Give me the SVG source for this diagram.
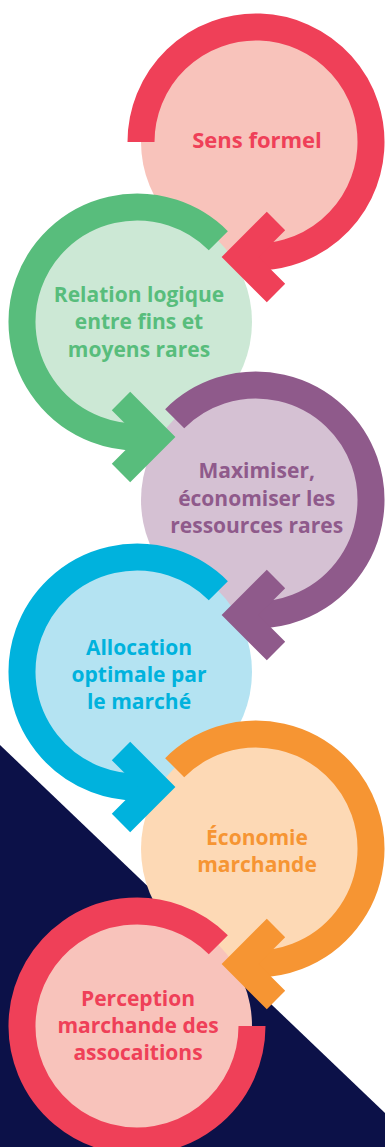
<svg xmlns="http://www.w3.org/2000/svg" width="385" height="1147" viewBox="0 0 385 1147">
<style>
.lbl{font-family:"Open Sans","Liberation Sans",sans-serif;font-weight:700;font-size:21px;text-anchor:middle}
.ring{fill:none;stroke-width:27;stroke-linecap:butt}
.chev{fill:none;stroke-width:26;stroke-linecap:butt;stroke-linejoin:miter;stroke-miterlimit:4}
.red{stroke:#ef4058}.green{stroke:#58bd7c}.purple{stroke:#8f5a8b}.blue{stroke:#00b2dd}.orange{stroke:#f69533}
</style>
<rect width="385" height="1147" fill="#ffffff"/>
<polygon points="0,745 385,1113 385,1147 0,1147" fill="#0c1148"/>
<g id="node-sens-formel">
<circle cx="256" cy="142" r="115" fill="#f8c3bb"/>
<text class="lbl" x="257" y="148" fill="#ef4058" style="font-size:22px">Sens formel</text>
</g>
<g id="node-relation-logique">
<circle cx="137" cy="322" r="115" fill="#cce8d5"/>
<text class="lbl" fill="#58bd7c"><tspan x="139" y="301.7">Relation logique</tspan><tspan x="139" y="329.3">entre fins et</tspan><tspan x="139" y="356.7">moyens rares</tspan></text>
</g>
<g id="node-maximiser">
<circle cx="256" cy="500" r="115" fill="#d5c1d3"/>
<text class="lbl" fill="#8f5a8b"><tspan x="256.7" y="478.3">Maximiser,</tspan><tspan x="256.7" y="505.7">économiser les</tspan><tspan x="256.7" y="532.7">ressources rares</tspan></text>
</g>
<g id="node-allocation">
<circle cx="137" cy="672" r="115" fill="#b4e3f2"/>
<text class="lbl" fill="#00b2dd"><tspan x="139" y="655">Allocation</tspan><tspan x="139" y="682">optimale par</tspan><tspan x="139" y="709">le marché</tspan></text>
</g>
<g id="node-economie-marchande">
<circle cx="256" cy="849" r="115" fill="#fdd9b5"/>
<text class="lbl" fill="#f69533"><tspan x="257" y="845">Économie</tspan><tspan x="257" y="872">marchande</tspan></text>
</g>
<g id="node-perception">
<circle cx="137" cy="1026" r="115" fill="#f8c3bb"/>
<text class="lbl" fill="#ef4058"><tspan x="138" y="1006">Perception</tspan><tspan x="138" y="1033">marchande des</tspan><tspan x="138" y="1060">assocaitions</tspan></text>
</g>
<g id="connectors">
<path class="ring red" d="M141,142 A115,115 0 1 1 243.98,256.37"/>
<polyline class="chev red" points="276,221 240,257 276,293"/>
<path class="ring green" d="M218.32,240.68 A115,115 0 1 0 149.02,436.37"/>
<polyline class="chev green" points="121,401 157,437 121,473"/>
<path class="ring purple" d="M174.68,418.68 A115,115 0 1 1 243.98,614.37"/>
<polyline class="chev purple" points="276,579 240,615 276,651"/>
<path class="ring blue" d="M218.32,590.68 A115,115 0 1 0 149.02,786.37"/>
<polyline class="chev blue" points="121,751 157,787 121,823"/>
<path class="ring orange" d="M174.68,767.68 A115,115 0 1 1 243.98,963.37"/>
<polyline class="chev orange" points="276,928 240,964 276,1000"/>
<path class="ring red" d="M252,1026 A115,115 0 1 1 218.32,944.68"/>
</g>
</svg>
